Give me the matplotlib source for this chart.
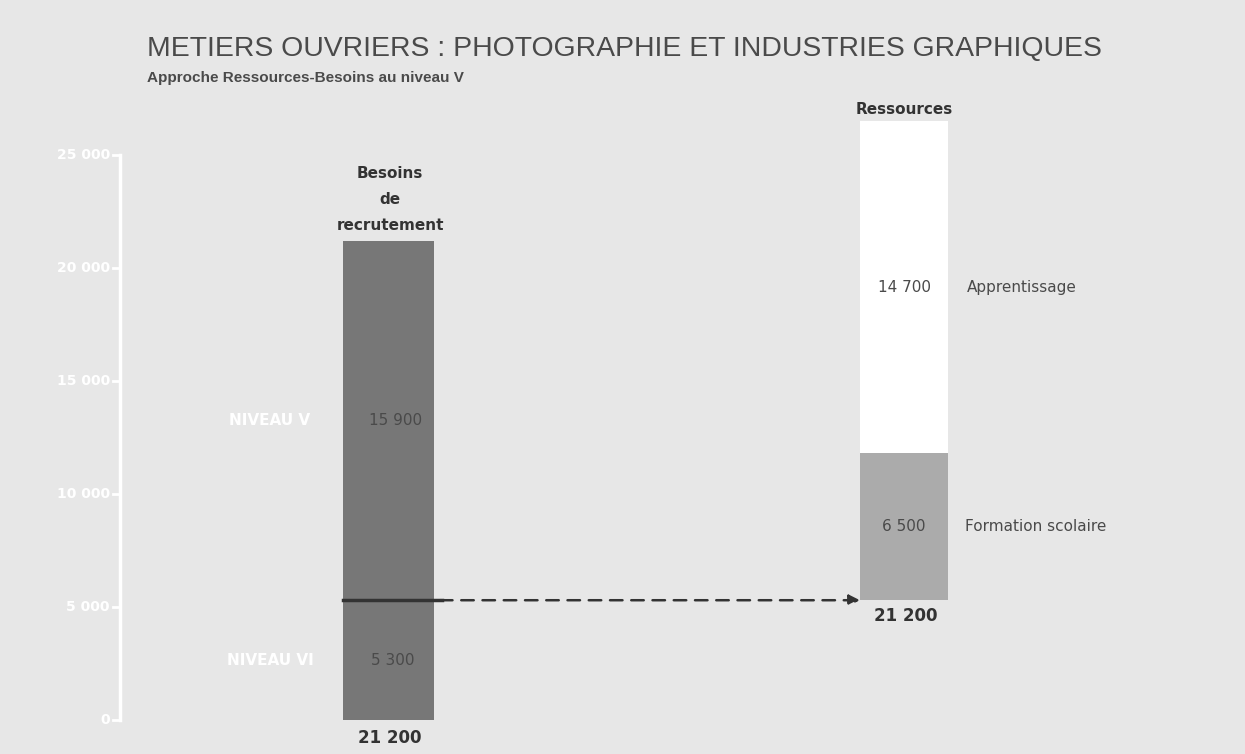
import matplotlib
matplotlib.use('Agg')
import matplotlib.pyplot as plt

# values
besoins = [5300, 15900]          # niveau VI, niveau V
besoins_labels = ['5 300', '15 900']
niveaux = ['NIVEAU VI', 'NIVEAU V']
ressources = [6500, 14700]       # formation scolaire, apprentissage
ressources_labels = ['6 500', '14 700']
ressources_names = ['Formation scolaire', 'Apprentissage']
total_label = '21 200'
yticks = [0, 5000, 10000, 15000, 20000, 25000]
ytick_labels = ['0', '5 000', '10 000', '15 000', '20 000', '25 000']

bg = '#e7e7e7'
txt = '#4a4a4a'
narrow = ['Liberation Sans', 'DejaVu Sans']

fig = plt.figure(figsize=(12.45, 7.54), dpi=100, facecolor=bg)
ax = fig.add_axes([0, 0, 1, 1])
ax.set_facecolor(bg)
ax.set_xlim(0, 1245)
ax.set_ylim(-1504, 31858)
ax.axis('off')

# left bar: besoins de recrutement
xb, wb = 388, 91
ax.bar(xb, besoins[0], width=wb, color='#777777')
ax.bar(xb, besoins[1], width=wb, bottom=besoins[0], color='#777777')
ax.plot([xb - wb / 2, xb + wb / 2 + 8], [besoins[0]] * 2, color='#333333', lw=2.5)
ax.text(xb + 5, besoins[0] / 2, besoins_labels[0], ha='center', va='center', color=txt, fontsize=11)
ax.text(xb + 8, besoins[0] + besoins[1] / 2, besoins_labels[1], ha='center', va='center', color=txt, fontsize=11)
ax.text(xb + 2, -800, total_label, ha='center', va='center', color='#333333', fontsize=12, fontweight='bold')
ax.text(xb + 2, sum(besoins) + 350, 'Besoins\nde\nrecrutement', ha='center', va='bottom',
        color='#333333', fontsize=11, fontweight='bold', linespacing=1.9)

# white axis with niveau labels
ax.plot([120, 120], [yticks[0], yticks[-1]], color='white', lw=2.5)
for v, lab in zip(yticks, ytick_labels):
    ax.plot([113, 120], [v, v], color='white', lw=2)
    ax.text(110, v, lab, ha='right', va='center', color='white', fontsize=10, fontweight='bold')
ax.text(270, besoins[0] / 2, niveaux[0], ha='center', va='center', color='white', fontsize=11, fontweight='bold')
ax.text(270, besoins[0] + besoins[1] / 2, niveaux[1], ha='center', va='center', color='white', fontsize=11, fontweight='bold')

# dashed arrow to the ressources bar, which sits on the niveau V level
ax.annotate('', xy=(860, besoins[0]), xytext=(440, besoins[0]),
            arrowprops=dict(arrowstyle='-|>', color='#333333', lw=1.8, ls=(0, (5, 3.5)),
                            mutation_scale=16, shrinkA=0, shrinkB=0))

xr, wr = 904, 88
ax.bar(xr, ressources[0], width=wr, bottom=besoins[0], color='#ababab')
ax.bar(xr, ressources[1], width=wr, bottom=besoins[0] + ressources[0], color='white')
ax.text(xr, besoins[0] + ressources[0] / 2, ressources_labels[0], ha='center', va='center', color=txt, fontsize=11)
ax.text(xr, besoins[0] + ressources[0] + ressources[1] / 2, ressources_labels[1], ha='center', va='center', color=txt, fontsize=11)
ax.text(965, besoins[0] + ressources[0] / 2, ressources_names[0], ha='left', va='center', color=txt, fontsize=11)
ax.text(967, besoins[0] + ressources[0] + ressources[1] / 2, ressources_names[1], ha='left', va='center', color=txt, fontsize=11)
ax.text(xr + 2, besoins[0] - 700, total_label, ha='center', va='center', color='#333333', fontsize=12, fontweight='bold')
ax.text(xr, besoins[0] + sum(ressources) + 180, 'Ressources', ha='center', va='bottom',
        color='#333333', fontsize=11, fontweight='bold')

fig.text(147, 754 - 49, 'METIERS OUVRIERS : PHOTOGRAPHIE ET INDUSTRIES GRAPHIQUES',
         transform=None, ha='left', va='center', color='#4a4a4a', fontsize=20.4, family=narrow)
fig.text(147, 754 - 78, 'Approche Ressources-Besoins au niveau V',
         transform=None, ha='left', va='center', color='#4a4a4a', fontsize=11, fontweight='bold', family=narrow)

fig.savefig('out.png', dpi=100, facecolor=bg)
